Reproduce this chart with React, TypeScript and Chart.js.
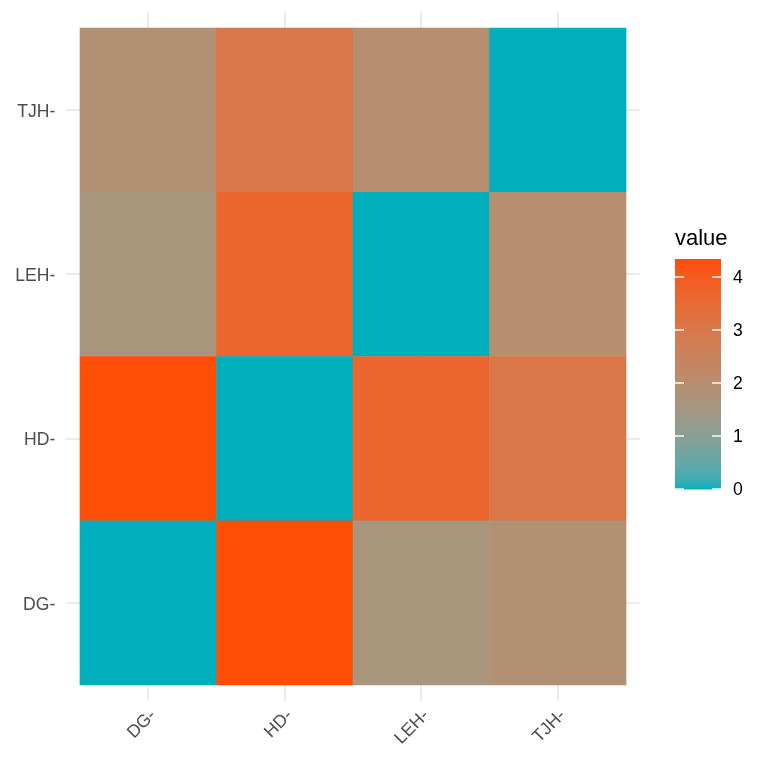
import { useEffect, useRef } from "react";
import { Chart, registerables } from "chart.js";

Chart.register(...registerables);

// matrix labels (rows bottom → top, columns left → right)
const names = ["DG-", "HD-", "LEH-", "TJH-"];
const dgRow = [0, 4.34, 1.65, 1.86];
const hdRow = [4.34, 0, 3.64, 3.0];
const lehRow = [1.65, 3.64, 0, 1.98];
const tjhRow = [1.86, 3.0, 1.98, 0];
const legendTicks = [0, 1, 2, 3, 4];

const lowColor = "#00AFBB";
const highColor = "#FC4E07";
const FONT = "'Liberation Sans', Arial, Helvetica, sans-serif";

// --- colour helpers: interpolate in CIE Lab like ggplot's gradient ---
const toLin = (c: number) => {
  c /= 255;
  return c <= 0.04045 ? c / 12.92 : Math.pow((c + 0.055) / 1.055, 2.4);
};
const fromLin = (c: number) => {
  const v = c <= 0.0031308 ? c * 12.92 : 1.055 * Math.pow(c, 1 / 2.4) - 0.055;
  return Math.round(Math.min(1, Math.max(0, v)) * 255);
};
const Xn = 0.95047, Yn = 1, Zn = 1.08883;
const f = (t: number) => (t > 0.008856 ? Math.cbrt(t) : 7.787 * t + 16 / 116);
const fi = (t: number) => (t * t * t > 0.008856 ? t * t * t : (t - 16 / 116) / 7.787);

function hexToLab(hex: string) {
  const r = toLin(parseInt(hex.slice(1, 3), 16));
  const g = toLin(parseInt(hex.slice(3, 5), 16));
  const b = toLin(parseInt(hex.slice(5, 7), 16));
  const x = (0.4124 * r + 0.3576 * g + 0.1805 * b) / Xn;
  const y = (0.2126 * r + 0.7152 * g + 0.0722 * b) / Yn;
  const z = (0.0193 * r + 0.1192 * g + 0.9505 * b) / Zn;
  return [116 * f(y) - 16, 500 * (f(x) - f(y)), 200 * (f(y) - f(z))];
}

function labToRgb([L, a, b]: number[]) {
  const fy = (L + 16) / 116;
  const x = fi(fy + a / 500) * Xn;
  const y = fi(fy) * Yn;
  const z = fi(fy - b / 200) * Zn;
  const r = 3.2406 * x - 1.5372 * y - 0.4986 * z;
  const g = -0.9689 * x + 1.8758 * y + 0.0415 * z;
  const bl = 0.0557 * x - 0.204 * y + 1.057 * z;
  return `rgb(${fromLin(r)}, ${fromLin(g)}, ${fromLin(bl)})`;
}

const lowLab = hexToLab(lowColor);
const highLab = hexToLab(highColor);
const colorAt = (t: number) =>
  labToRgb(lowLab.map((v, i) => v + (highLab[i] - v) * Math.min(1, Math.max(0, t))));

const rows = [dgRow, hdRow, lehRow, tjhRow];
const all = rows.flat();
const vmin = Math.min(...all);
const vmax = Math.max(...all);

const colorbarPlugin = {
  id: "colorbar",
  afterDraw(chart: Chart) {
    const ctx = chart.ctx;
    const left = 675, width = 46, top = 259, bottom = 489;
    const h = bottom - top;
    ctx.save();
    for (let i = 0; i < h; i++) {
      ctx.fillStyle = colorAt(1 - (i + 0.5) / h);
      ctx.fillRect(left, top + i, width, 1.5);
    }
    const yOf = (v: number) => bottom - ((v - vmin) / (vmax - vmin)) * h;
    ctx.strokeStyle = "rgba(255,255,255,0.95)";
    ctx.lineWidth = 1.4;
    ctx.fillStyle = "#000";
    ctx.font = `17.6px ${FONT}`;
    ctx.textAlign = "left";
    ctx.textBaseline = "middle";
    legendTicks.forEach((v) => {
      const y = yOf(v);
      ctx.beginPath();
      ctx.moveTo(left, y);
      ctx.lineTo(left + 9, y);
      ctx.moveTo(left + width - 9, y);
      ctx.lineTo(left + width, y);
      ctx.stroke();
      ctx.fillText(String(v), 733, y + 1);
    });
    ctx.font = `22px ${FONT}`;
    ctx.textBaseline = "alphabetic";
    ctx.fillText("value", 675, 245);
    ctx.restore();
  },
};

const App = () => {
  const canvasRef = useRef<HTMLCanvasElement>(null);

  useEffect(() => {
    document.body.style.margin = "0";
    if (!canvasRef.current) return;
    const ctx = canvasRef.current.getContext("2d");
    if (!ctx) return;

    const tickFont = { family: FONT, size: 17.6 };
    const centers = names.map((_, i) => i + 1);

    const chart = new Chart(ctx, {
      type: "bar",
      data: {
        datasets: rows.map((row, r) => ({
          label: names[r],
          data: row.map((_, c) => ({ x: c + 1, y: [r + 0.5, r + 1.5] })),
          backgroundColor: row.map((v) => colorAt((v - vmin) / (vmax - vmin))),
          borderWidth: 0,
          barPercentage: 1,
          categoryPercentage: 1,
          grouped: false,
        })),
      } as any,
      options: {
        responsive: false,
        animation: false,
        layout: { padding: { top: 11.6, right: 128.35, left: 0, bottom: 0 } },
        plugins: {
          legend: { display: false },
          tooltip: { enabled: false },
        },
        scales: {
          x: {
            type: "linear",
            min: 0.4,
            max: 4.6,
            offset: false,
            afterBuildTicks: (s: any) => {
              s.ticks = centers.map((v) => ({ value: v }));
            },
            afterFit: (s: any) => {
              s.height = 66.6;
              s.paddingLeft = 0;
              s.paddingRight = 0;
            },
            ticks: {
              callback: (v: any) => names[Number(v) - 1],
              minRotation: 45,
              maxRotation: 45,
              color: "#4d4d4d",
              font: tickFont,
              padding: 4,
              labelOffset: 5,
            },
            grid: { color: "#ebebeb", lineWidth: 2, drawTicks: false, offset: false },
            border: { display: false },
          },
          y: {
            type: "linear",
            min: 0.4,
            max: 4.6,
            afterBuildTicks: (s: any) => {
              s.ticks = centers.map((v) => ({ value: v }));
            },
            afterFit: (s: any) => {
              s.width = 66.35;
              s.paddingTop = 0;
              s.paddingBottom = 0;
            },
            ticks: {
              callback: (v: any) => names[Number(v) - 1],
              color: "#4d4d4d",
              font: tickFont,
              padding: 11,
              labelOffset: 2,
            },
            grid: { color: "#ebebeb", lineWidth: 2, drawTicks: false },
            border: { display: false },
          },
        },
      } as any,
      plugins: [colorbarPlugin],
    });

    return () => chart.destroy();
  }, []);

  return (
    <div style={{ position: "absolute", left: 0, top: 0, width: 768, height: 768, background: "#fff" }}>
      <canvas ref={canvasRef} width={768} height={768}></canvas>
    </div>
  );
};

export default App;
